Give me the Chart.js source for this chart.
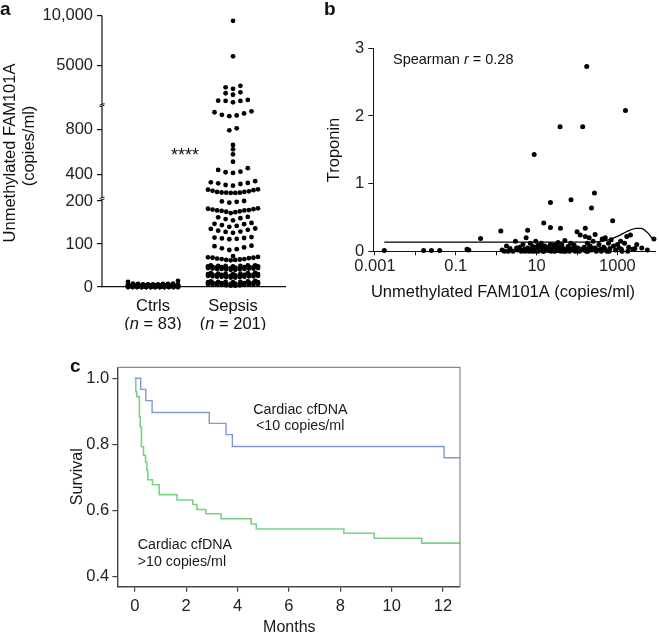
<!DOCTYPE html>
<html>
<head>
<meta charset="utf-8">
<script src="https://cdn.jsdelivr.net/npm/chart.js@4.4.1/dist/chart.umd.min.js"></script>
<style>
  body { margin: 0; background: #fff; }
  #wrap { position: relative; width: 659px; height: 633px; overflow: hidden; }
  canvas { position: absolute; }
</style>
</head>
<body>
<div id="wrap">
  <canvas id="chartA" width="320" height="330" style="left:0;top:0"></canvas>
  <canvas id="chartB" width="339" height="330" style="left:320px;top:0"></canvas>
  <canvas id="chartC" width="659" height="303" style="left:0;top:330px"></canvas>
</div>
<script>
'use strict';

// ---- panel a: unmethylated FAM101A, copies/ml ----
const groupNames = ['Ctrls', 'Sepsis'];
const groupSizes = ['83', '201'];
const ctrlValues = [
  0, 0, 0, 0, 0, 0, 0, 0, 0, 0, 0, 0, 0, 0, 0, 0, 0, 0, 0, 0, 0, 0, 0, 0, 0, 0, 0, 0, 0, 0,
  1, 1, 1, 1, 1, 1, 1, 1, 1, 1, 2, 2, 2, 2, 2, 2, 2, 2, 2, 2,
  3, 3, 3, 3, 3, 3, 3, 3, 4, 4, 4, 4, 4, 4, 4, 4,
  5, 5, 5, 5, 5, 5, 6, 6, 6, 6, 7, 7, 7, 8, 8, 12, 14
];
const sepsisValues = [
  9500, 5900, 2900, 2750, 2600, 2250, 2150, 2000, 1470, 1400, 1370, 1370, 1230,
  958, 950, 940, 927, 922, 915,
  808, 790, 660, 622, 578, 512, 455, 440, 424, 419, 413,
  340, 330, 325, 321, 315, 306, 300,
  268, 265, 260, 255, 250, 245, 245, 240, 238, 238, 236, 236,
  200, 199, 198, 196,
  183, 182, 181, 180, 179, 178, 178, 177, 176, 175, 174, 172,
  163, 162, 160, 158, 155,
  149, 147, 146, 144, 142, 140,
  136, 135, 133, 131, 129, 128, 126,
  116, 115, 114, 113, 112, 111,
  96, 95, 92, 90, 88, 86,
  72,
  70, 69, 68, 68, 67, 66, 65, 65, 64, 63, 63, 62,
  50, 50, 50, 49, 49, 49, 48, 48, 48, 47, 47, 47, 46, 46, 46, 45, 45, 45,
  44, 44, 44, 43, 43, 43, 42, 42, 42, 41, 41, 40, 40,
  33, 32, 32, 31, 31, 31, 30, 30, 30, 29, 29, 29, 28, 28, 28, 27, 27, 27,
  26, 26, 26, 25, 25, 25, 24, 24, 24, 23, 23, 22, 22,
  14, 13, 13, 12, 12, 12, 11, 11, 11, 10, 10, 10, 9, 9, 9, 8, 8, 8,
  7, 7, 7, 6, 6, 6, 5, 5, 5, 4, 4, 3, 3
];
const aTickValues = [0, 100, 200, 400, 800, 5000, 10000];
const aTickLabels = ['0', '100', '200', '400', '800', '5000', '10,000'];

// ---- panel b: troponin vs FAM101A ----
const bCopies = [
  0.0017, 0.016, 0.025, 0.04, 0.19, 0.21, 0.41,
  1.3, 1.4, 1.6, 1.8, 2.2, 2.6, 3.0, 3.4, 3.8, 4.2, 4.6, 5.0, 5.5, 6.0, 6.0, 6.5, 7.0, 7.5, 8.0,
  8.7, 15, 9.0, 9.5, 10, 11, 11, 12, 13, 14, 15, 16, 17, 22, 19, 20, 22, 22, 24, 39, 26, 28,
  30, 32, 34, 36, 38, 38, 40, 42, 45, 48, 50, 55, 60, 65, 70, 71, 75, 80, 85, 90,
  100, 105, 110, 120, 130, 138, 160, 150, 160, 170, 174, 180, 190, 200, 210, 228, 230, 250,
  270, 280, 300, 280, 350, 380, 420, 460, 500, 550, 600, 650, 700, 760, 800, 900,
  1000, 1100, 1200, 1300, 1500, 1580, 1700, 1900, 2100, 2400, 3000, 4000, 5500, 8000,
  2.0, 3.2, 4.0, 5.2, 6.8, 7.8, 9.2, 10.5, 12.5, 14.5, 17.5, 21, 23, 27, 31, 35,
  44, 52, 58, 68, 95, 115, 145, 185, 240, 320, 400, 480, 620, 1250, 1800, 2700
];
const bTroponin = [
  0.01, 0.01, 0.01, 0.01, 0.03, 0.02, 0.19,
  0.30, 0.02, 0.0, 0.08, 0.04, 0.0, 0.15, 0.02, 0.06, 0.0, 0.10, 0.03, 0.2, 0.31, 0.05, 0.0, 0.12, 0.03, 0.07,
  1.43, 0.42, 0.0, 0.15, 0.04, 0.09, 0.0, 0.02, 0.12, 0.05, 0.0, 0.08, 0.03, 0.35, 0.01, 0.06, 0.72, 0.10, 0.02, 0.34, 0.05, 0.0,
  0.08, 0.03, 0.13, 0.01, 1.84, 0.06, 0.0, 0.10, 0.04, 0.0, 0.16, 0.02, 0.07, 0.0, 0.12, 0.76, 0.04, 0.02, 0.09, 0.0,
  0.29, 0.05, 0.01, 0.24, 0.03, 1.84, 0.34, 0.06, 0.22, 0.0, 2.73, 0.12, 0.04, 0.20, 0.08, 0.64, 0.02, 0.15,
  0.86, 0.05, 0.0, 0.25, 0.10, 0.03, 0.18, 0.06, 0.20, 0.0, 0.12, 0.04, 0.17, 0.45, 0.08, 0.02,
  0.10, 0.05, 0.15, 0.0, 0.12, 2.08, 0.22, 0.06, 0.24, 0.03, 0.10, 0.05, 0.02, 0.18,
  0.0, 0.05, 0.02, 0.0, 0.03, 0.0, 0.06, 0.02, 0.07, 0.0, 0.04, 0.02, 0.0, 0.09, 0.01, 0.05,
  0.02, 0.0, 0.04, 0.02, 0.04, 0.0, 0.02, 0.0, 0.05, 0.02, 0.0, 0.04, 0.0, 0.03, 0.0, 0.04
];
const trendCopies = [0.0017, 1, 100, 300, 600, 1000, 1400, 2000, 2900, 3900, 5000, 6300, 7400];
const trendTroponin = [0.135, 0.135, 0.135, 0.14, 0.17, 0.22, 0.265, 0.31, 0.34, 0.34, 0.3, 0.24, 0.18];
const bDecades = [0.001, 0.01, 0.1, 1, 10, 100, 1000];
const bDecadeLabels = ['0.001', '', '0.1', '', '10', '', '1000'];

// ---- panel c: survival ----
const lowMonths = [0, 0.23, 0.43, 0.675, 2.9, 3.55, 3.8, 12.04, 12.66];
const lowSurvival = [1.0, 0.966, 0.932, 0.896, 0.863, 0.829, 0.793, 0.759, 0.759];
const highMonths = [0, 0.04, 0.08, 0.18, 0.21, 0.26, 0.34, 0.42, 0.47, 0.51, 0.69, 0.95,
  1.64, 2.26, 2.42, 2.77, 3.36, 4.53, 4.73, 8.14, 9.32, 11.17, 12.66];
const highSurvival = [1.0, 0.959, 0.944, 0.883, 0.853, 0.792, 0.766, 0.746, 0.721, 0.692, 0.677, 0.647,
  0.631, 0.617, 0.602, 0.589, 0.574, 0.558, 0.543, 0.530, 0.515, 0.500, 0.500];
const cMonthTicks = [0, 2, 4, 6, 8, 10, 12];
const cSurvivalTicks = [0.4, 0.6, 0.8, 1.0];

const SANS = "'Liberation Sans', Arial, sans-serif";
const NARROW = "'Liberation Sans Narrow', 'Arial Narrow', sans-serif";
Chart.defaults.font.family = SANS;
Chart.defaults.color = '#222';
Chart.defaults.animation = false;

// broken y axis of panel a: three linear pieces
function brokenY(v) {
  if (v <= 200) return v * 0.43;
  if (v <= 1000) return 90 + (v - 200) * 0.113;
  return 182.4 + (v - 1000) * 0.00986;
}

// lay dots out in rows, lowest value in the middle of each row
function swarm(values, center) {
  const sorted = values.slice().sort((a, b) => a - b);
  const rows = [];
  let row = [];
  sorted.forEach(v => {
    if (row.length) {
      const u = brokenY(v);
      const prev = brokenY(row[row.length - 1]);
      const first = brokenY(row[0]);
      if (row.length >= 12 || u - prev > 2.5 || u - first > 5) {
        rows.push(row);
        row = [];
      }
    }
    row.push(v);
  });
  if (row.length) rows.push(row);

  const pts = [];
  rows.forEach(r => {
    const n = r.length;
    const step = n > 1 ? Math.min(7.4, 50 / (n - 1)) : 0;
    const slots = [];
    for (let i = 0; i < n; i++) slots.push((i - (n - 1) / 2) * step);
    slots.sort((a, b) => Math.abs(a) - Math.abs(b) || a - b);
    r.forEach((v, i) => pts.push({ x: center + slots[i] / 80, y: brokenY(v) }));
  });
  return pts;
}

function mixedText(ctx, parts, x, y, size, family, align) {
  const fonts = parts.map(p => (p[1] ? 'italic ' : '') + size + 'px ' + family);
  let total = 0;
  const widths = parts.map((p, i) => {
    ctx.font = fonts[i];
    const w = ctx.measureText(p[0]).width;
    total += w;
    return w;
  });
  let cx = align === 'center' ? x - total / 2 : x;
  ctx.textAlign = 'left';
  parts.forEach((p, i) => {
    ctx.font = fonts[i];
    ctx.fillText(p[0], cx, y);
    cx += widths[i];
  });
}

// condensed label: narrow font squeezed a little more
function squeezedText(ctx, text, x, y, size, squeeze) {
  ctx.save();
  ctx.translate(x, y);
  ctx.scale(squeeze, 1);
  ctx.font = size + 'px ' + NARROW;
  ctx.fillText(text, 0, 0);
  ctx.restore();
}

function textPlugin(id, draw) {
  return {
    id: id,
    afterDraw(chart) {
      const ctx = chart.ctx;
      ctx.save();
      ctx.fillStyle = '#111';
      ctx.textBaseline = 'alphabetic';
      draw(ctx, chart);
      ctx.restore();
    }
  };
}

// ================= panel a =================
const panelA = textPlugin('panelA', (ctx, chart) => {
  const area = chart.chartArea;
  const ys = chart.scales.y;
  const xs = chart.scales.x;
  const px = area.left;

  // y axis line with two breaks
  ctx.strokeStyle = '#111';
  ctx.lineWidth = 1.2;
  const pieces = [[0, 87.3], [89.3, 181], [182.6, ys.max]];
  pieces.forEach(p => {
    ctx.beginPath();
    ctx.moveTo(px, ys.getPixelForValue(p[0]));
    ctx.lineTo(px, ys.getPixelForValue(p[1]));
    ctx.stroke();
  });
  ctx.lineWidth = 1;
  [87.3, 89.3, 181, 182.6].forEach(u => {
    const py = ys.getPixelForValue(u);
    ctx.beginPath();
    ctx.moveTo(px - 2.5, py + 0.8);
    ctx.lineTo(px + 2.5, py - 0.8);
    ctx.stroke();
  });

  ctx.fillStyle = '#111';
  ctx.font = 'bold 19px ' + SANS;
  ctx.textAlign = 'left';
  ctx.fillText('a', 0, 15);

  // category labels
  groupNames.forEach((name, i) => {
    const cx = xs.getPixelForValue(i);
    ctx.font = '16.5px ' + SANS;
    ctx.textAlign = 'center';
    ctx.fillText(name, cx, 311);
    mixedText(ctx, [['(', false], ['n', true], [' = ' + groupSizes[i] + ')', false]], cx, 329, 16.5, SANS, 'center');
  });

  // significance stars
  ctx.font = '18px ' + SANS;
  ctx.textAlign = 'center';
  ctx.fillText('****', 185, 161);

  // y title, two lines
  ctx.save();
  ctx.translate(15, 153);
  ctx.rotate(-Math.PI / 2);
  ctx.font = '16.5px ' + SANS;
  ctx.textAlign = 'center';
  ctx.fillText('Unmethylated FAM101A', 0, 0);
  ctx.restore();
  ctx.save();
  ctx.translate(34, 146);
  ctx.rotate(-Math.PI / 2);
  ctx.font = '16.5px ' + SANS;
  ctx.textAlign = 'center';
  ctx.fillText('(copies/ml)', 0, 0);
  ctx.restore();
});

new Chart(document.getElementById('chartA'), {
  type: 'scatter',
  data: {
    datasets: [
      { data: swarm(ctrlValues, 0), backgroundColor: '#000', borderWidth: 0, pointRadius: 2.4, clip: false },
      { data: swarm(sepsisValues, 1), backgroundColor: '#000', borderWidth: 0, pointRadius: 2.4, clip: false }
    ]
  },
  options: {
    responsive: false,
    devicePixelRatio: 1,
    layout: { padding: { top: 15.7, right: 35, left: 0, bottom: 0 } },
    plugins: { legend: { display: false }, tooltip: { enabled: false } },
    scales: {
      x: {
        type: 'linear', min: -0.6375, max: 1.65,
        afterFit: s => { s.height = 43; },
        ticks: { display: false },
        grid: { display: true, drawOnChartArea: false, drawTicks: false },
        border: { color: '#111', width: 1.2 }
      },
      y: {
        type: 'linear', min: 0, max: 271.3,
        afterFit: s => { s.width = 102; },
        afterBuildTicks: s => { s.ticks = aTickValues.map(v => ({ value: brokenY(v) })); },
        ticks: { callback: (v, i) => aTickLabels[i], font: { size: 16.5 }, color: '#222', padding: 4 },
        grid: { drawOnChartArea: false, tickLength: 5, color: '#111', lineWidth: 1.2 },
        border: { display: false }
      }
    }
  },
  plugins: [panelA]
});

// ================= panel b =================
const panelB = textPlugin('panelB', (ctx, chart) => {
  ctx.font = 'bold 19px ' + SANS;
  ctx.textAlign = 'left';
  ctx.fillText('b', 4, 15);

  mixedText(ctx, [['Spearman ', false], ['r', true], [' = 0.28', false]], 73, 64, 14.5, SANS, 'left');

  ctx.font = '16.5px ' + SANS;
  ctx.textAlign = 'center';
  ctx.fillText('Unmethylated FAM101A (copies/ml)', 183, 297);

  ctx.save();
  ctx.translate(19, 150);
  ctx.rotate(-Math.PI / 2);
  ctx.font = '16.5px ' + SANS;
  ctx.textAlign = 'center';
  ctx.fillText('Troponin', 0, 0);
  ctx.restore();
});

new Chart(document.getElementById('chartB'), {
  type: 'scatter',
  data: {
    datasets: [
      {
        data: bCopies.map((c, i) => ({ x: c, y: bTroponin[i] })),
        backgroundColor: '#000', borderWidth: 0, pointRadius: 2.5, clip: false
      },
      {
        data: trendCopies.map((c, i) => ({ x: c, y: trendTroponin[i] })),
        showLine: true, borderColor: '#000', borderWidth: 1.3, pointRadius: 0,
        tension: 0.4, cubicInterpolationMode: 'monotone', clip: false
      }
    ]
  },
  options: {
    responsive: false,
    devicePixelRatio: 1,
    layout: { padding: { top: 48.3, right: 0, left: 0, bottom: 0 } },
    plugins: { legend: { display: false }, tooltip: { enabled: false } },
    scales: {
      x: {
        type: 'logarithmic', min: 0.00091, max: 8500,
        afterFit: s => { s.height = 78.7; },
        afterBuildTicks: s => { s.ticks = bDecades.map(v => ({ value: v })); },
        ticks: {
          callback: (v, i) => bDecadeLabels[i],
          autoSkip: false, maxRotation: 0, font: { size: 16.5 }, color: '#222', padding: 1
        },
        grid: { drawOnChartArea: false, tickLength: 4, color: '#111' },
        border: { color: '#111', width: 1 }
      },
      y: {
        type: 'linear', min: 0, max: 3,
        afterFit: s => { s.width = 53.3; },
        afterBuildTicks: s => { s.ticks = [0, 1, 2, 3].map(v => ({ value: v })); },
        ticks: { font: { size: 16.5 }, color: '#222', padding: 4 },
        grid: { drawOnChartArea: false, tickLength: 5, color: '#111' },
        border: { color: '#111', width: 1 }
      }
    }
  },
  plugins: [panelB]
});

// ================= panel c =================
const panelC = textPlugin('panelC', (ctx, chart) => {
  const a = chart.chartArea;
  ctx.strokeStyle = '#8a8a8a';
  ctx.lineWidth = 1.2;
  ctx.beginPath();
  ctx.moveTo(a.left, a.top);
  ctx.lineTo(a.right, a.top);
  ctx.lineTo(a.right, a.bottom);
  ctx.stroke();

  ctx.fillStyle = '#111';
  ctx.font = 'bold 19px ' + SANS;
  ctx.textAlign = 'left';
  ctx.fillText('c', 70, 41.7);

  ctx.fillStyle = '#1a1a1a';
  ctx.textAlign = 'left';
  squeezedText(ctx, 'Cardiac cfDNA', 253.3, 84.3, 15.5, 0.92);
  squeezedText(ctx, '<10 copies/ml', 256, 100, 15.5, 0.92);
  squeezedText(ctx, 'Cardiac cfDNA', 137.7, 219, 15.5, 0.92);
  squeezedText(ctx, '>10 copies/ml', 137.7, 235.7, 15.5, 0.92);

  ctx.font = '16px ' + NARROW;
  ctx.textAlign = 'center';
  ctx.fillText('Months', 289.3, 301.7);

  ctx.save();
  ctx.translate(82, 146.7);
  ctx.rotate(-Math.PI / 2);
  ctx.font = '16px ' + SANS;
  ctx.textAlign = 'center';
  ctx.fillText('Survival', 0, 0);
  ctx.restore();
});

new Chart(document.getElementById('chartC'), {
  type: 'line',
  data: {
    datasets: [
      {
        data: highMonths.map((m, i) => ({ x: m, y: highSurvival[i] })),
        borderColor: '#79d383', borderWidth: 1.6, pointRadius: 0, stepped: 'before', fill: false
      },
      {
        data: lowMonths.map((m, i) => ({ x: m, y: lowSurvival[i] })),
        borderColor: '#8395d6', borderWidth: 1.4, pointRadius: 0, stepped: 'before', fill: false
      }
    ]
  },
  options: {
    responsive: false,
    devicePixelRatio: 1,
    layout: { padding: { top: 37.3, right: 199, left: 0, bottom: 0 } },
    plugins: { legend: { display: false }, tooltip: { enabled: false } },
    scales: {
      x: {
        type: 'linear', min: -0.68, max: 12.66,
        afterFit: s => { s.height = 46.3; },
        afterBuildTicks: s => { s.ticks = cMonthTicks.map(v => ({ value: v })); },
        ticks: { font: { size: 16.5, family: NARROW }, color: '#222', padding: 5, maxRotation: 0 },
        grid: { drawOnChartArea: false, tickLength: 5, color: '#444', lineWidth: 1.2 },
        border: { color: '#444', width: 1.4 }
      },
      y: {
        type: 'linear', min: 0.368, max: 1.033,
        afterFit: s => { s.width = 117.3; },
        afterBuildTicks: s => { s.ticks = cSurvivalTicks.map(v => ({ value: v })); },
        ticks: { callback: v => v.toFixed(1), font: { size: 16.5, family: NARROW }, color: '#222', padding: 3 },
        grid: { drawOnChartArea: false, tickLength: 5, color: '#444', lineWidth: 1.2 },
        border: { color: '#444', width: 1.4 }
      }
    }
  },
  plugins: [panelC]
});
</script>
</body>
</html>
